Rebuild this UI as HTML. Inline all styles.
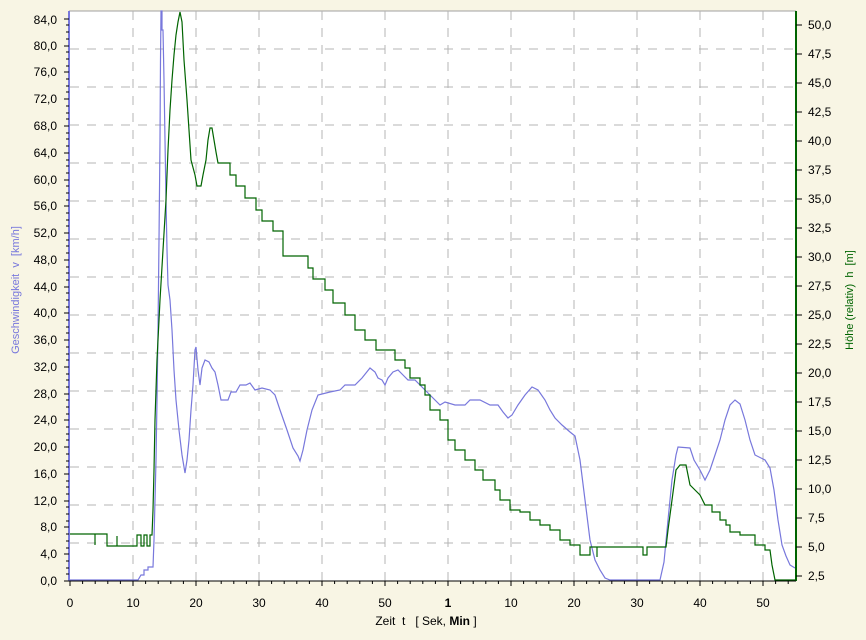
<!DOCTYPE html>
<html><head><meta charset="utf-8"><style>
body{margin:0;background:#F8F5E4;}
svg{display:block;font-family:"Liberation Sans",sans-serif;font-size:12px;}
</style></head><body>
<svg width="866" height="640" viewBox="0 0 866 640" xmlns="http://www.w3.org/2000/svg">
<rect x="0" y="0" width="866" height="640" fill="#F8F5E4"/>
<rect x="69" y="11" width="727" height="570" fill="#fff"/>
<line x1="69" y1="11" x2="796" y2="11" stroke="#a0a0a0"/>
<g stroke="#b4b4b4" stroke-dasharray="9,8" stroke-width="1">
<line x1="70" y1="543" x2="796" y2="543"/><line x1="70" y1="505" x2="796" y2="505"/><line x1="70" y1="467" x2="796" y2="467"/><line x1="70" y1="429" x2="796" y2="429"/><line x1="70" y1="391" x2="796" y2="391"/><line x1="70" y1="353" x2="796" y2="353"/><line x1="70" y1="315" x2="796" y2="315"/><line x1="70" y1="277" x2="796" y2="277"/><line x1="70" y1="239" x2="796" y2="239"/><line x1="70" y1="201" x2="796" y2="201"/><line x1="70" y1="163" x2="796" y2="163"/><line x1="70" y1="125" x2="796" y2="125"/><line x1="70" y1="87" x2="796" y2="87"/><line x1="70" y1="49" x2="796" y2="49"/>
<line x1="133" y1="11" x2="133" y2="581"/><line x1="196" y1="11" x2="196" y2="581"/><line x1="259" y1="11" x2="259" y2="581"/><line x1="322" y1="11" x2="322" y2="581"/><line x1="385" y1="11" x2="385" y2="581"/><line x1="448" y1="11" x2="448" y2="581"/><line x1="511" y1="11" x2="511" y2="581"/><line x1="574" y1="11" x2="574" y2="581"/><line x1="637" y1="11" x2="637" y2="581"/><line x1="700" y1="11" x2="700" y2="581"/><line x1="763" y1="11" x2="763" y2="581"/>
</g>
<polyline fill="none" stroke="#7878dc" stroke-width="1.2" points="70,580 138,580 141,575 144,575 144,570 148,570 148,567 153,567 154,540 155,500 156,460 157,400 158,330 159,240 160,140 160.5,60 161,11 162,11 162,30 163,30 164,80 165,140 166,200 167,250 168,285 170,300 172,330 174,370 176,400 179,430 182,455 185,473 187,460 189,440 191,410 193,385 195,350 196,347 198,370 200,385 202,368 205,360 209,362 212,368 215,372 218,385 221,400 228,400 231,392 236,392 240,385 246,385 250,383 255,390 262,388 270,390 275,395 280,410 287,430 293,448 298,456 300,461 303,450 307,430 312,410 318,395 330,392 340,390 345,385 355,385 362,378 370,368 375,372 378,378 382,380 385,385 388,378 393,372 398,370 403,375 408,380 415,380 420,385 430,395 440,405 445,402 455,405 465,405 470,400 480,400 490,405 498,405 503,412 508,418 512,415 518,405 525,395 532,387 538,390 545,400 550,410 555,418 562,425 570,432 575,436 580,460 585,500 590,540 595,560 600,570 605,578 610,580 660,580 664,562 668,520 672,480 676,455 678,447 690,448 694,460 700,470 705,480 710,470 715,455 720,440 725,420 730,405 735,400 740,404 745,420 750,440 755,455 765,460 770,468 774,490 778,520 782,545 786,556 790,565 795,568"/>
<polyline fill="none" stroke="#006400" stroke-width="1.2" points="70,534 95,534 95,545 95,534 107,534 107,546 117,546 117,536 117,546 137,546 137,535 141,535 141,546 144,546 144,535 147,535 147,546 150,546 150,535 152,535 153,510 154,470 155,420 157,360 160,300 163,250 166,200 168,150 170,110 172,80 174,55 176,35 178,22 180,12 182,22 184,60 187,100 189,130 191,160 195,175 197,186 201,186 203,175 206,160 208,140 210,128 212,128 214,140 216,152 218,163 230,163 230,175 236,175 236,186 245,186 245,198 256,198 256,210 262,210 262,221 273,221 273,231 283,231 283,256 308,256 308,268 313,268 313,279 325,279 325,290 333,290 333,303 345,303 345,315 355,315 355,330 365,330 365,340 376,340 376,350 395,350 395,360 405,360 405,368 410,368 410,378 420,378 420,385 425,385 425,395 430,395 430,410 440,410 440,420 448,420 448,440 455,440 455,450 465,450 465,460 475,460 475,470 483,470 483,480 495,480 495,490 500,490 500,500 510,500 510,510 520,510 520,512 530,512 530,520 540,520 540,525 550,525 550,530 560,530 560,540 570,540 570,545 580,545 580,555 590,555 590,547 597,547 597,557 597,547 643,547 643,555 647,555 647,547 666,547 668,530 672,500 676,470 680,465 686,465 688,475 690,485 695,490 700,495 705,505 712,505 712,512 720,512 720,520 726,520 726,525 730,525 730,532 740,532 740,535 755,535 755,545 765,545 765,550 770,550 772,565 775,580 795,580"/>
<line x1="69" y1="11" x2="69" y2="581" stroke="#7878dc" stroke-width="2"/>
<line x1="796" y1="11" x2="796" y2="581" stroke="#006400" stroke-width="2"/>
<line x1="69" y1="581" x2="796" y2="581" stroke="#000" stroke-width="1"/>
<g stroke="#000">
<path d="M70,581v5M82.6,581v3M95.2,581v3M107.8,581v3M120.4,581v3M133,581v5M145.6,581v3M158.2,581v3M170.8,581v3M183.4,581v3M196,581v5M208.6,581v3M221.2,581v3M233.8,581v3M246.4,581v3M259,581v5M271.6,581v3M284.2,581v3M296.8,581v3M309.4,581v3M322,581v5M334.6,581v3M347.2,581v3M359.8,581v3M372.4,581v3M385,581v5M397.6,581v3M410.2,581v3M422.8,581v3M435.4,581v3M448,581v5M460.6,581v3M473.2,581v3M485.8,581v3M498.4,581v3M511,581v5M523.6,581v3M536.2,581v3M548.8,581v3M561.4,581v3M574,581v5M586.6,581v3M599.2,581v3M611.8,581v3M624.4,581v3M637,581v5M649.6,581v3M662.2,581v3M674.8,581v3M687.4,581v3M700,581v5M712.6,581v3M725.2,581v3M737.8,581v3M750.4,581v3M763,581v5M775.6,581v3M788.2,581v3"/>
<path d="M64,581h5M66,574h3M66,568h3M66,561h3M64,554h5M66,548h3M66,541h3M66,534h3M64,527h5M66,521h3M66,514h3M66,507h3M64,501h5M66,494h3M66,487h3M66,481h3M64,474h5M66,467h3M66,461h3M66,454h3M64,447h5M66,440h3M66,434h3M66,427h3M64,420h5M66,414h3M66,407h3M66,400h3M64,394h5M66,387h3M66,380h3M66,374h3M64,367h5M66,360h3M66,354h3M66,347h3M64,340h5M66,333h3M66,327h3M66,320h3M64,313h5M66,307h3M66,300h3M66,293h3M64,287h5M66,280h3M66,273h3M66,267h3M64,260h5M66,253h3M66,246h3M66,240h3M64,233h5M66,226h3M66,220h3M66,213h3M64,206h5M66,200h3M66,193h3M66,186h3M64,180h5M66,173h3M66,166h3M66,160h3M64,153h5M66,146h3M66,139h3M66,133h3M64,126h5M66,119h3M66,113h3M66,106h3M64,99h5M66,92h3M66,86h3M66,79h3M64,72h5M66,66h3M66,59h3M66,52h3M64,46h5M66,39h3M66,32h3M66,25h3M64,19h5"/>
</g>
<g fill="#000" text-anchor="end">
<text x="57" y="585">0,0</text><text x="57" y="558">4,0</text><text x="57" y="531">8,0</text><text x="57" y="505">12,0</text><text x="57" y="478">16,0</text><text x="57" y="451">20,0</text><text x="57" y="424">24,0</text><text x="57" y="398">28,0</text><text x="57" y="371">32,0</text><text x="57" y="344">36,0</text><text x="57" y="317">40,0</text><text x="57" y="291">44,0</text><text x="57" y="264">48,0</text><text x="57" y="237">52,0</text><text x="57" y="210">56,0</text><text x="57" y="184">60,0</text><text x="57" y="157">64,0</text><text x="57" y="130">68,0</text><text x="57" y="103">72,0</text><text x="57" y="76">76,0</text><text x="57" y="50">80,0</text><text x="57" y="24">84,0</text>
</g>
<g stroke="#000"><path d="M796,576h6M796,547h6M796,518h6M796,489h6M796,460h6M796,431h6M796,402h6M796,373h6M796,344h6M796,315h6M796,286h6M796,257h6M796,228h6M796,199h6M796,170h6M796,141h6M796,112h6M796,83h6M796,54h6M796,25h6"/></g>
<g fill="#000">
<text x="808" y="580">2,5</text><text x="808" y="551">5,0</text><text x="808" y="522">7,5</text><text x="808" y="493">10,0</text><text x="808" y="464">12,5</text><text x="808" y="435">15,0</text><text x="808" y="406">17,5</text><text x="808" y="377">20,0</text><text x="808" y="348">22,5</text><text x="808" y="319">25,0</text><text x="808" y="290">27,5</text><text x="808" y="261">30,0</text><text x="808" y="232">32,5</text><text x="808" y="203">35,0</text><text x="808" y="174">37,5</text><text x="808" y="145">40,0</text><text x="808" y="116">42,5</text><text x="808" y="87">45,0</text><text x="808" y="58">47,5</text><text x="808" y="29">50,0</text>
</g>
<g fill="#000" text-anchor="middle">
<text x="70" y="607">0</text><text x="133" y="607">10</text><text x="196" y="607">20</text><text x="259" y="607">30</text><text x="322" y="607">40</text><text x="385" y="607">50</text><text x="448" y="607" font-weight="bold">1</text><text x="511" y="607">10</text><text x="574" y="607">20</text><text x="637" y="607">30</text><text x="700" y="607">40</text><text x="763" y="607">50</text>
<text x="426" y="625" xml:space="preserve">Zeit  t   [ Sek, <tspan font-weight="bold">Min</tspan> ]</text>
</g>
<text transform="translate(19,290) rotate(-90)" text-anchor="middle" fill="#7878dc" font-size="11" xml:space="preserve">Geschwindigkeit  v  [km/h]</text>
<text transform="translate(853,300) rotate(-90)" text-anchor="middle" fill="#006400" font-size="11" xml:space="preserve">Höhe (relativ)  h  [m]</text>
</svg>
</body></html>
